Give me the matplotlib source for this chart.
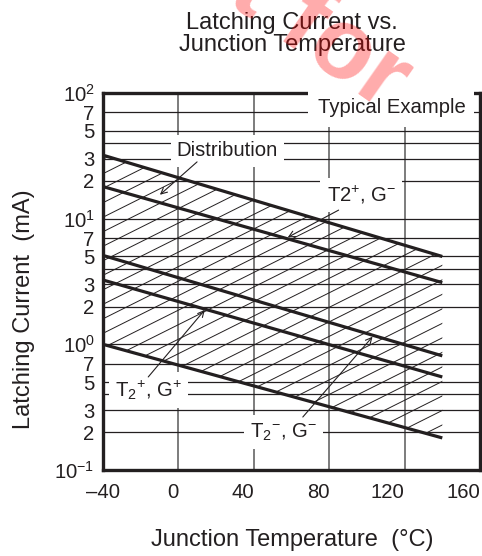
import numpy as np
import matplotlib
matplotlib.use('Agg')
import matplotlib.pyplot as plt

plt.rcParams['font.family'] = ['Liberation Sans', 'DejaVu Sans']
plt.rcParams['mathtext.fontset'] = 'custom'
plt.rcParams['mathtext.rm'] = 'Liberation Sans'
plt.rcParams['mathtext.it'] = 'Liberation Sans:italic'
plt.rcParams['mathtext.bf'] = 'Liberation Sans:bold'

ink = '#231f20'

# data (temperature in degC, current in mA)
temps = [-40, 140]
upper_limit = [32, 5.0]
t2p_gm = [18, 3.1]
t2m_gm = [5.1, 0.81]
t2p_gp = [3.25, 0.55]
lower_limit = [1.0, 0.18]

x_ticks = [-40, 0, 40, 80, 120, 160]
x_labels = ['–40', '0', '40', '80', '120', '160']
y_decades = [0.1, 1, 10, 100]
y_decade_labels = [r'$10^{-1}$', r'$10^{0}$', r'$10^{1}$', r'$10^{2}$']
y_minor = [0.2, 0.3, 0.4, 0.5, 0.7, 2, 3, 4, 5, 7, 20, 30, 40, 50, 70]
y_minor_labels = ['2', '3', '', '5', '7'] * 3

fig = plt.figure(figsize=(4.82, 5.56), dpi=100)
ax = fig.add_axes([103 / 482, 86 / 556, 377 / 482, 377 / 556])
ax.set_yscale('log')
ax.set_xlim(-40, 160)
ax.set_ylim(0.1, 100)

ax.set_xticks(x_ticks, x_labels)
ax.set_yticks(y_decades, y_decade_labels)
ax.set_yticks(y_minor, y_minor_labels, minor=True)
ax.tick_params(which='both', length=0, labelsize=14.6, colors=ink)
ax.tick_params(axis='y', which='both', pad=6)
ax.tick_params(axis='x', pad=9)
for i, t in enumerate(ax.get_xticklabels()):
    t.set_ha('center' if i == 0 else 'right')

ax.grid(True, which='both', axis='y', color=ink, lw=0.9, zorder=1)
ax.grid(True, which='major', axis='x', color='#666666', lw=1.2, zorder=1)
ax.set_axisbelow(True)
for s in ax.spines.values():
    s.set_linewidth(2.4)
    s.set_color(ink)

# hatched distribution band
band = ax.fill_between(temps, lower_limit, upper_limit, facecolor='none', edgecolor='none')
clip = band.get_paths()[0]
for c in np.arange(-0.6, 1.0, 0.0385):
    ln, = ax.plot([0, 1], [c, c + 0.5], transform=ax.transAxes, color=ink, lw=0.7, zorder=2)
    ln.set_clip_path(clip, band.get_transform())

for series in [upper_limit, t2p_gm, t2m_gm, t2p_gp, lower_limit]:
    ax.plot(temps, series, color=ink, lw=2.3, solid_capstyle='butt', zorder=3)

ax.set_xlim(-40, 160)
ax.set_ylim(0.1, 100)

box = dict(boxstyle='square,pad=0.3', fc='white', ec='none')
ax.text(113, 76, 'Typical Example', ha='center', va='center', fontsize=14.6, color=ink,
        bbox=dict(boxstyle='square,pad=0.45', fc='white', ec='none'), zorder=5)
ax.text(26, 34.6, 'Distribution', ha='center', va='center', fontsize=14.6, color=ink, bbox=box, zorder=5)
ax.text(97, 15.5, 'T2$^{+}$, G$^{-}$', ha='center', va='center', fontsize=14.6, color=ink, bbox=box, zorder=5)
ax.text(-16, 0.434, 'T$_{2}$$^{+}$, G$^{+}$', ha='center', va='center', fontsize=14.6, color=ink, bbox=box, zorder=5)
ax.text(55.5, 0.2, 'T$_{2}$$^{-}$, G$^{-}$', ha='center', va='center', fontsize=14.6, color=ink, bbox=box, zorder=5)

arrow = dict(arrowstyle='->', lw=0.8, color=ink, shrinkA=0, shrinkB=0, mutation_scale=11)
ax.annotate('', xy=(-9.8, 15.5), xytext=(9.9, 28.3), arrowprops=arrow, zorder=6)
ax.annotate('', xy=(58, 7.1), xytext=(85, 11.7), arrowprops=arrow, zorder=6)
ax.annotate('', xy=(14, 1.88), xytext=(-16, 0.55), arrowprops=arrow, zorder=6)
ax.annotate('', xy=(103, 1.15), xytext=(66, 0.264), arrowprops=arrow, zorder=6)

fig.text(292 / 482, 1 - 34 / 556, 'Latching Current vs.\nJunction Temperature', ha='center', va='center',
         fontsize=17, color=ink, linespacing=1.05)
fig.text(292 / 482, 1 - 540 / 556, 'Junction Temperature  (°C)', ha='center', va='center', fontsize=17, color=ink)
fig.text(24 / 482, 1 - 309 / 556, 'Latching Current  (mA)', ha='center', va='center', rotation=90,
         fontsize=17, color=ink)

# watermark, cut by the top edge as in the source page
fig.text(0.55, 1.005, 'Not for', rotation=-35, fontsize=72, fontweight='bold', color='red', alpha=0.33,
         ha='center', va='center', zorder=20)

fig.savefig('out.png', dpi=100)
